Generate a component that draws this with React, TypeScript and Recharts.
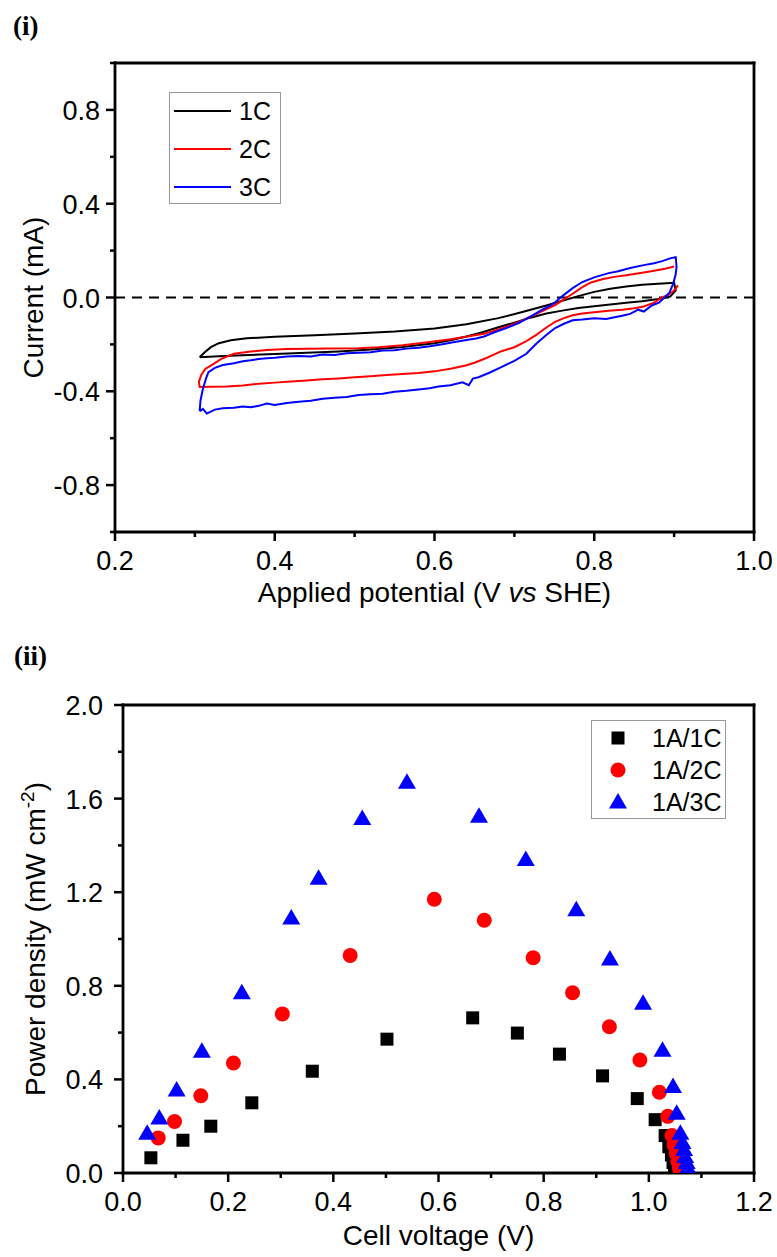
import React from "react";
import {
  LineChart,
  Line,
  ScatterChart,
  Scatter,
  XAxis,
  YAxis,
  ReferenceLine,
  Legend,
} from "recharts";

const FONT = '"Liberation Sans", Arial, sans-serif';

// (i) cyclic voltammograms: v = applied potential (V vs SHE), i = current (mA)
const cv1C = [
  { v: 0.306, i: -0.255 }, { v: 0.312, i: -0.235 }, { v: 0.32, i: -0.212 },
  { v: 0.33, i: -0.195 }, { v: 0.345, i: -0.182 }, { v: 0.365, i: -0.174 },
  { v: 0.4, i: -0.167 }, { v: 0.45, i: -0.161 }, { v: 0.5, i: -0.154 },
  { v: 0.55, i: -0.145 }, { v: 0.6, i: -0.132 }, { v: 0.64, i: -0.114 },
  { v: 0.68, i: -0.088 }, { v: 0.71, i: -0.062 }, { v: 0.74, i: -0.034 },
  { v: 0.76, i: -0.014 }, { v: 0.78, i: 0.006 }, { v: 0.8, i: 0.024 },
  { v: 0.82, i: 0.037 }, { v: 0.84, i: 0.047 }, { v: 0.86, i: 0.054 },
  { v: 0.88, i: 0.059 }, { v: 0.9, i: 0.063 }, { v: 0.902, i: 0.03 },
  { v: 0.895, i: 0.004 }, { v: 0.88, i: -0.006 }, { v: 0.86, i: -0.016 },
  { v: 0.84, i: -0.022 }, { v: 0.82, i: -0.03 }, { v: 0.8, i: -0.037 },
  { v: 0.78, i: -0.045 }, { v: 0.76, i: -0.056 }, { v: 0.74, i: -0.068 },
  { v: 0.72, i: -0.086 }, { v: 0.7, i: -0.107 }, { v: 0.68, i: -0.127 },
  { v: 0.66, i: -0.148 }, { v: 0.64, i: -0.166 }, { v: 0.62, i: -0.182 },
  { v: 0.6, i: -0.195 }, { v: 0.56, i: -0.211 }, { v: 0.52, i: -0.222 },
  { v: 0.48, i: -0.23 }, { v: 0.44, i: -0.236 }, { v: 0.4, i: -0.241 },
  { v: 0.36, i: -0.246 }, { v: 0.33, i: -0.251 }, { v: 0.306, i: -0.255 },
];

const cv2C = [
  { v: 0.905, i: 0.052 }, { v: 0.9, i: 0.03 }, { v: 0.893, i: 0.012 },
  { v: 0.885, i: 0.0 }, { v: 0.875, i: -0.022 }, { v: 0.862, i: -0.038 },
  { v: 0.85, i: -0.046 }, { v: 0.835, i: -0.052 }, { v: 0.818, i: -0.057 },
  { v: 0.8, i: -0.063 }, { v: 0.785, i: -0.068 }, { v: 0.773, i: -0.076 },
  { v: 0.762, i: -0.088 }, { v: 0.751, i: -0.104 }, { v: 0.74, i: -0.128 },
  { v: 0.728, i: -0.158 }, { v: 0.715, i: -0.186 }, { v: 0.7, i: -0.212 },
  { v: 0.683, i: -0.23 }, { v: 0.665, i: -0.258 }, { v: 0.65, i: -0.278 },
  { v: 0.639, i: -0.29 }, { v: 0.62, i: -0.304 }, { v: 0.6, i: -0.315 },
  { v: 0.58, i: -0.322 }, { v: 0.56, i: -0.326 }, { v: 0.54, i: -0.331 },
  { v: 0.52, i: -0.336 }, { v: 0.5, i: -0.34 }, { v: 0.48, i: -0.345 },
  { v: 0.46, i: -0.349 }, { v: 0.44, i: -0.354 }, { v: 0.42, i: -0.358 },
  { v: 0.4, i: -0.363 }, { v: 0.38, i: -0.368 }, { v: 0.36, i: -0.375 },
  { v: 0.34, i: -0.379 }, { v: 0.32, i: -0.381 }, { v: 0.306, i: -0.382 },
  { v: 0.305, i: -0.36 }, { v: 0.308, i: -0.33 }, { v: 0.313, i: -0.305 },
  { v: 0.321, i: -0.288 }, { v: 0.333, i: -0.262 }, { v: 0.349, i: -0.24 },
  { v: 0.37, i: -0.23 }, { v: 0.39, i: -0.224 }, { v: 0.415, i: -0.22 },
  { v: 0.44, i: -0.219 }, { v: 0.47, i: -0.218 }, { v: 0.505, i: -0.216 },
  { v: 0.53, i: -0.212 }, { v: 0.56, i: -0.204 }, { v: 0.594, i: -0.19 },
  { v: 0.62, i: -0.178 }, { v: 0.645, i: -0.164 }, { v: 0.662, i: -0.155 },
  { v: 0.68, i: -0.136 }, { v: 0.694, i: -0.12 }, { v: 0.706, i: -0.104 },
  { v: 0.72, i: -0.082 }, { v: 0.735, i: -0.058 }, { v: 0.751, i: -0.032 },
  { v: 0.762, i: -0.008 }, { v: 0.773, i: 0.016 }, { v: 0.785, i: 0.044 },
  { v: 0.796, i: 0.064 }, { v: 0.81, i: 0.078 }, { v: 0.825, i: 0.088 },
  { v: 0.84, i: 0.095 }, { v: 0.86, i: 0.106 }, { v: 0.875, i: 0.114 },
  { v: 0.89, i: 0.124 }, { v: 0.9, i: 0.132 },
];

const cv3C = [
  { v: 0.306, i: -0.485 }, { v: 0.307, i: -0.44 }, { v: 0.31, i: -0.39 },
  { v: 0.314, i: -0.345 }, { v: 0.317, i: -0.318 }, { v: 0.325, i: -0.3 },
  { v: 0.335, i: -0.288 }, { v: 0.349, i: -0.28 }, { v: 0.36, i: -0.272 },
  { v: 0.37, i: -0.268 }, { v: 0.38, i: -0.262 }, { v: 0.39, i: -0.259 },
  { v: 0.4, i: -0.257 }, { v: 0.415, i: -0.252 }, { v: 0.43, i: -0.249 },
  { v: 0.445, i: -0.252 }, { v: 0.46, i: -0.243 }, { v: 0.475, i: -0.245 },
  { v: 0.49, i: -0.238 }, { v: 0.505, i: -0.236 }, { v: 0.52, i: -0.233 },
  { v: 0.535, i: -0.226 }, { v: 0.55, i: -0.225 }, { v: 0.565, i: -0.218 },
  { v: 0.58, i: -0.214 }, { v: 0.594, i: -0.208 }, { v: 0.61, i: -0.199 },
  { v: 0.625, i: -0.19 }, { v: 0.64, i: -0.181 }, { v: 0.652, i: -0.175 },
  { v: 0.662, i: -0.166 }, { v: 0.675, i: -0.148 }, { v: 0.69, i: -0.13 },
  { v: 0.706, i: -0.108 }, { v: 0.72, i: -0.082 }, { v: 0.735, i: -0.052 },
  { v: 0.745, i: -0.035 }, { v: 0.751, i: -0.02 }, { v: 0.76, i: 0.006 },
  { v: 0.773, i: 0.04 }, { v: 0.785, i: 0.066 }, { v: 0.8, i: 0.086 },
  { v: 0.818, i: 0.104 }, { v: 0.83, i: 0.112 }, { v: 0.845, i: 0.126 },
  { v: 0.862, i: 0.138 }, { v: 0.875, i: 0.146 }, { v: 0.885, i: 0.155 },
  { v: 0.896, i: 0.168 }, { v: 0.902, i: 0.172 }, { v: 0.903, i: 0.13 },
  { v: 0.902, i: 0.1 }, { v: 0.899, i: 0.06 }, { v: 0.894, i: 0.02 },
  { v: 0.888, i: 0.0 }, { v: 0.881, i: -0.022 }, { v: 0.872, i: -0.034 },
  { v: 0.862, i: -0.06 }, { v: 0.855, i: -0.052 }, { v: 0.845, i: -0.07 },
  { v: 0.835, i: -0.078 }, { v: 0.827, i: -0.083 }, { v: 0.815, i: -0.092 },
  { v: 0.8, i: -0.088 }, { v: 0.785, i: -0.094 }, { v: 0.773, i: -0.097 },
  { v: 0.762, i: -0.112 }, { v: 0.751, i: -0.13 }, { v: 0.74, i: -0.16 },
  { v: 0.728, i: -0.195 }, { v: 0.715, i: -0.24 }, { v: 0.7, i: -0.27 },
  { v: 0.683, i: -0.298 }, { v: 0.668, i: -0.322 }, { v: 0.655, i: -0.34 },
  { v: 0.648, i: -0.346 }, { v: 0.643, i: -0.374 }, { v: 0.635, i: -0.362 },
  { v: 0.62, i: -0.374 }, { v: 0.605, i: -0.38 }, { v: 0.594, i: -0.387 },
  { v: 0.58, i: -0.392 }, { v: 0.565, i: -0.398 }, { v: 0.55, i: -0.402 },
  { v: 0.535, i: -0.41 }, { v: 0.52, i: -0.413 }, { v: 0.505, i: -0.416 },
  { v: 0.49, i: -0.424 }, { v: 0.475, i: -0.428 }, { v: 0.46, i: -0.432 },
  { v: 0.445, i: -0.44 }, { v: 0.43, i: -0.445 }, { v: 0.415, i: -0.45 },
  { v: 0.4, i: -0.458 }, { v: 0.39, i: -0.452 }, { v: 0.38, i: -0.462 },
  { v: 0.37, i: -0.468 }, { v: 0.36, i: -0.465 }, { v: 0.349, i: -0.47 },
  { v: 0.335, i: -0.472 }, { v: 0.325, i: -0.478 }, { v: 0.315, i: -0.495 },
  { v: 0.31, i: -0.475 }, { v: 0.306, i: -0.485 },
];

// (ii) power density curves: v = cell voltage (V), p = power density (mW cm-2)
const pd1A1C = [
  { v: 0.053, p: 0.065 }, { v: 0.114, p: 0.14 }, { v: 0.167, p: 0.2 },
  { v: 0.245, p: 0.3 }, { v: 0.36, p: 0.435 }, { v: 0.502, p: 0.572 },
  { v: 0.665, p: 0.663 }, { v: 0.75, p: 0.598 }, { v: 0.83, p: 0.508 },
  { v: 0.912, p: 0.415 }, { v: 0.978, p: 0.318 }, { v: 1.012, p: 0.228 },
  { v: 1.031, p: 0.16 }, { v: 1.038, p: 0.112 }, { v: 1.043, p: 0.077 },
  { v: 1.046, p: 0.045 }, { v: 1.049, p: 0.02 }, { v: 1.052, p: 0.003 },
];

const pd1A2C = [
  { v: 0.067, p: 0.15 }, { v: 0.098, p: 0.22 }, { v: 0.148, p: 0.33 },
  { v: 0.21, p: 0.47 }, { v: 0.303, p: 0.68 }, { v: 0.432, p: 0.93 },
  { v: 0.592, p: 1.17 }, { v: 0.687, p: 1.08 }, { v: 0.78, p: 0.92 },
  { v: 0.855, p: 0.77 }, { v: 0.925, p: 0.625 }, { v: 0.983, p: 0.483 },
  { v: 1.02, p: 0.345 }, { v: 1.036, p: 0.242 }, { v: 1.044, p: 0.16 },
  { v: 1.048, p: 0.12 }, { v: 1.052, p: 0.085 }, { v: 1.055, p: 0.05 },
  { v: 1.058, p: 0.022 }, { v: 1.06, p: 0.003 },
];

const pd1A3C = [
  { v: 0.046, p: 0.17 }, { v: 0.069, p: 0.235 }, { v: 0.102, p: 0.355 },
  { v: 0.15, p: 0.52 }, { v: 0.226, p: 0.77 }, { v: 0.32, p: 1.09 },
  { v: 0.372, p: 1.26 }, { v: 0.455, p: 1.515 }, { v: 0.54, p: 1.67 },
  { v: 0.677, p: 1.525 }, { v: 0.766, p: 1.34 }, { v: 0.862, p: 1.125 },
  { v: 0.926, p: 0.915 }, { v: 0.989, p: 0.725 }, { v: 1.026, p: 0.525 },
  { v: 1.046, p: 0.37 }, { v: 1.053, p: 0.255 }, { v: 1.06, p: 0.17 },
  { v: 1.064, p: 0.13 }, { v: 1.067, p: 0.1 }, { v: 1.069, p: 0.07 },
  { v: 1.072, p: 0.045 }, { v: 1.074, p: 0.022 }, { v: 1.077, p: 0.003 },
];

const cvXTicks = [0.2, 0.3, 0.4, 0.5, 0.6, 0.7, 0.8, 0.9, 1.0];
const cvXMajor = [0.2, 0.4, 0.6, 0.8, 1.0];
const cvYTicks = [-1.0, -0.8, -0.6, -0.4, -0.2, 0, 0.2, 0.4, 0.6, 0.8, 1.0];
const cvYMajor = [-0.8, -0.4, 0, 0.4, 0.8];

const pdXTicks = [0, 0.1, 0.2, 0.3, 0.4, 0.5, 0.6, 0.7, 0.8, 0.9, 1.0, 1.1, 1.2];
const pdXMajor = [0, 0.2, 0.4, 0.6, 0.8, 1.0, 1.2];
const pdYTicks = [0, 0.2, 0.4, 0.6, 0.8, 1.0, 1.2, 1.4, 1.6, 1.8, 2.0];
const pdYMajor = [0, 0.4, 0.8, 1.2, 1.6, 2.0];

const AX = 2.8;

const isIn = (list: number[], v: number) => list.some((m) => Math.abs(m - v) < 1e-6);

function xTick(majors: number[]) {
  return (props: any) => {
    const { x, y, payload } = props;
    const major = isIn(majors, payload.value);
    return (
      <g>
        <line x1={x} x2={x} y1={y} y2={y + (major ? 9 : 5)} stroke="#000" strokeWidth={2.5} />
        {major && (
          <text x={x} y={y + 38} textAnchor="middle" fontSize={27} fontFamily={FONT} fill="#000">
            {payload.value.toFixed(1)}
          </text>
        )}
      </g>
    );
  };
}

function yTick(majors: number[], gap: number) {
  return (props: any) => {
    const { x, y, payload } = props;
    const major = isIn(majors, payload.value);
    return (
      <g>
        <line x1={x} x2={x - (major ? 9 : 5)} y1={y} y2={y} stroke="#000" strokeWidth={2.5} />
        {major && (
          <text x={x - gap} y={y + 10} textAnchor="end" fontSize={27} fontFamily={FONT} fill="#000">
            {payload.value.toFixed(1)}
          </text>
        )}
      </g>
    );
  };
}

const cvLegend = (props: any) => {
  const items = props.payload ?? [];
  return (
    <svg width={112} height={112} style={{ display: "block" }}>
      <rect x={0.5} y={0.5} width={111} height={111} fill="#fff" stroke="#999" />
      {items.map((it: any, k: number) => {
        const cy = 19 + k * 38;
        return (
          <g key={k}>
            <line x1={5} x2={62} y1={cy} y2={cy} stroke={it.color} strokeWidth={2} />
            <text x={70} y={cy + 9} fontSize={25} fontFamily={FONT} fill="#000">
              {it.value}
            </text>
          </g>
        );
      })}
    </svg>
  );
};

const squareShape = (p: any) => (
  <rect x={p.cx - 6.5} y={p.cy - 6.5} width={13} height={13} fill="#000" />
);
const circleShape = (p: any) => <circle cx={p.cx} cy={p.cy} r={7.5} fill="#ff0000" />;
const triangleShape = (p: any) => (
  <polygon
    points={`${p.cx},${p.cy - 9} ${p.cx + 9},${p.cy + 6.5} ${p.cx - 9},${p.cy + 6.5}`}
    fill="#0000ff"
  />
);

const markerFor: Record<string, (cx: number, cy: number) => React.ReactElement> = {
  "1A/1C": (cx, cy) => squareShape({ cx, cy }),
  "1A/2C": (cx, cy) => circleShape({ cx, cy }),
  "1A/3C": (cx, cy) => triangleShape({ cx, cy }),
};

const pdLegend = (props: any) => {
  const items = props.payload ?? [];
  return (
    <svg width={135} height={99} style={{ display: "block" }}>
      <rect x={0.5} y={0.5} width={134} height={98} fill="#fff" stroke="#999" />
      {items.map((it: any, k: number) => {
        const cy = 18 + k * 32;
        const mk = markerFor[it.value];
        return (
          <g key={k}>
            {mk && mk(27, cy)}
            <text x={61} y={cy + 9} fontSize={25} fontFamily={FONT} fill="#000">
              {it.value}
            </text>
          </g>
        );
      })}
    </svg>
  );
};

const panelLabel: React.CSSProperties = {
  position: "absolute",
  fontFamily: '"Liberation Serif", "Times New Roman", serif',
  fontWeight: "bold",
  fontSize: 27,
  lineHeight: 1,
};

export default function App() {
  return (
    <div style={{ position: "absolute", left: 0, top: 0, width: 777, height: 1257, background: "#fff" }}>
      <div style={{ ...panelLabel, left: 13, top: 13 }}>(i)</div>
      <div style={{ ...panelLabel, left: 14, top: 643 }}>(ii)</div>

      <div style={{ position: "absolute", left: 0, top: 0 }}>
        <LineChart width={777} height={620} margin={{ top: 63, right: 23, bottom: 0, left: 0 }}>
          <XAxis
            dataKey="v"
            type="number"
            domain={[0.2, 1.0]}
            allowDataOverflow
            ticks={cvXTicks}
            interval={0}
            height={88}
            tickSize={0}
            tickMargin={0}
            tickLine={false}
            tick={xTick(cvXMajor)}
            axisLine={{ stroke: "#000", strokeWidth: AX, strokeLinecap: "square" }}
            label={(p: any) => {
              const vb = p.viewBox;
              return (
                <text x={vb.x + vb.width / 2} y={vb.y + 70} textAnchor="middle" fontSize={28} fontFamily={FONT} fill="#000">
                  {"Applied potential (V "}
                  <tspan fontStyle="italic">vs</tspan>
                  {" SHE)"}
                </text>
              );
            }}
          />
          <YAxis
            dataKey="i"
            type="number"
            domain={[-1.0, 1.0]}
            allowDataOverflow
            ticks={cvYTicks}
            interval={0}
            width={115}
            tickSize={0}
            tickMargin={0}
            tickLine={false}
            tick={yTick(cvYMajor, 15)}
            axisLine={{ stroke: "#000", strokeWidth: AX, strokeLinecap: "square" }}
            label={(p: any) => {
              const vb = p.viewBox;
              const cx = 43;
              const cy = vb.y + vb.height / 2;
              return (
                <text x={cx} y={cy} transform={`rotate(-90 ${cx} ${cy})`} textAnchor="middle" fontSize={28} fontFamily={FONT} fill="#000">
                  Current (mA)
                </text>
              );
            }}
          />
          <ReferenceLine y={0} stroke="#000" strokeWidth={2} strokeDasharray="10 7" />
          <ReferenceLine y={1.0} stroke="#000" strokeWidth={AX} strokeLinecap="square" />
          <ReferenceLine x={1.0} stroke="#000" strokeWidth={AX} strokeLinecap="square" />
          <Line data={cv1C} dataKey="i" name="1C" stroke="#000000" strokeWidth={2} dot={false} type="linear" isAnimationActive={false} />
          <Line data={cv2C} dataKey="i" name="2C" stroke="#ff0000" strokeWidth={2} dot={false} type="linear" isAnimationActive={false} />
          <Line data={cv3C} dataKey="i" name="3C" stroke="#0000ff" strokeWidth={2} dot={false} type="linear" isAnimationActive={false} />
          <Legend
            content={cvLegend}
            layout="horizontal"
            verticalAlign="middle"
            align="center"
            wrapperStyle={{ left: 169, top: 92, width: 112, height: 112 }}
          />
        </LineChart>
      </div>

      <div style={{ position: "absolute", left: 0, top: 620 }}>
        <ScatterChart width={777} height={637} margin={{ top: 85, right: 23, bottom: 0, left: 0 }}>
          <XAxis
            dataKey="v"
            type="number"
            domain={[0, 1.2]}
            allowDataOverflow
            ticks={pdXTicks}
            interval={0}
            height={84}
            tickSize={0}
            tickMargin={0}
            tickLine={false}
            tick={xTick(pdXMajor)}
            axisLine={{ stroke: "#000", strokeWidth: AX, strokeLinecap: "square" }}
            label={(p: any) => {
              const vb = p.viewBox;
              return (
                <text x={vb.x + vb.width / 2} y={vb.y + 72} textAnchor="middle" fontSize={28} fontFamily={FONT} fill="#000">
                  Cell voltage (V)
                </text>
              );
            }}
          />
          <YAxis
            dataKey="p"
            type="number"
            domain={[0, 2.0]}
            allowDataOverflow
            ticks={pdYTicks}
            interval={0}
            width={123}
            tickSize={0}
            tickMargin={0}
            tickLine={false}
            tick={yTick(pdYMajor, 20)}
            axisLine={{ stroke: "#000", strokeWidth: AX, strokeLinecap: "square" }}
            label={(p: any) => {
              const vb = p.viewBox;
              const cx = 45;
              const cy = vb.y + vb.height / 2;
              return (
                <text x={cx} y={cy} transform={`rotate(-90 ${cx} ${cy})`} textAnchor="middle" fontSize={28} fontFamily={FONT} fill="#000">
                  {"Power density (mW cm"}
                  <tspan dy={-11} fontSize={19}>-2</tspan>
                  <tspan dy={11}>)</tspan>
                </text>
              );
            }}
          />
          <ReferenceLine y={2.0} stroke="#000" strokeWidth={AX} strokeLinecap="square" />
          <ReferenceLine x={1.2} stroke="#000" strokeWidth={AX} strokeLinecap="square" />
          <Scatter data={pd1A1C} name="1A/1C" fill="#000000" shape={squareShape} isAnimationActive={false} />
          <Scatter data={pd1A2C} name="1A/2C" fill="#ff0000" shape={circleShape} isAnimationActive={false} />
          <Scatter data={pd1A3C} name="1A/3C" fill="#0000ff" shape={triangleShape} isAnimationActive={false} />
          <Legend
            content={pdLegend}
            layout="horizontal"
            verticalAlign="middle"
            align="center"
            wrapperStyle={{ left: 591, top: 100, width: 135, height: 99 }}
          />
        </ScatterChart>
      </div>
    </div>
  );
}
